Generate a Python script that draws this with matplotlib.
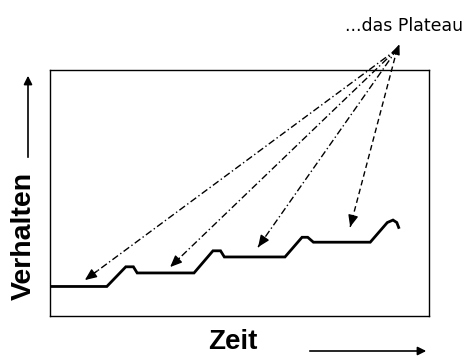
import matplotlib
matplotlib.use('Agg')
import matplotlib.pyplot as plt

plt.rcParams['font.family'] = ['Liberation Sans', 'DejaVu Sans']

# Verlauf: Zeit (x) und Verhalten (y), Achsen 0..100
zeit = [0, 15, 20, 22, 23, 38, 43, 45, 46, 62, 66.5, 68, 69.5, 84.5, 89, 90.5, 91.5, 92]
verhalten = [12, 12, 20, 20, 17.5, 17.5, 26.5, 26.5, 24, 24, 32, 32, 30, 30, 38, 39, 38, 36]

# Pfeilspitzen auf den Plateaus
plateau_x = [9.2, 31.7, 54.9, 79.2]
plateau_y = [14.6, 19.9, 28.0, 36.2]
plateau_ls = [(0, (5, 2, 1, 2)), (0, (5, 2, 1, 2)), (0, (5, 2, 1, 2)), (0, (4, 2.5))]
quelle = (91.6, 108.5)

W, H = 477, 356
fig = plt.figure(figsize=(W / 100, H / 100), dpi=100)
ax = fig.add_axes([50 / W, 40 / H, 379 / W, 246 / H])
ax.set_xlim(0, 100)
ax.set_ylim(0, 100)
ax.set_xticks([])
ax.set_yticks([])
for s in ax.spines.values():
    s.set_linewidth(1.0)

ax.plot(zeit, verhalten, color='black', lw=2.0, solid_joinstyle='miter')

# gestrichelte Pfeile vom Text zu den Plateaus
for px, py, ls in zip(plateau_x, plateau_y, plateau_ls):
    ax.plot([quelle[0], px], [quelle[1], py], color='black', lw=1.0, ls=ls, clip_on=False)
    dx = px - quelle[0]
    dy = py - quelle[1]
    ax.annotate('', xy=(px, py), xytext=(px - dx * 0.04, py - dy * 0.04),
                arrowprops=dict(arrowstyle='-|>,head_length=0.7,head_width=0.3',
                                color='black', lw=1.0, shrinkA=0, shrinkB=0))
# kleine Spitze nach oben zum Text
ax.annotate('', xy=(92.2, 110.5), xytext=(quelle[0] - 0.4, quelle[1] - 2),
            annotation_clip=False,
            arrowprops=dict(arrowstyle='-|>,head_length=0.6,head_width=0.25',
                            color='black', lw=1.0, shrinkA=0, shrinkB=0))

# Achsenpfeile und Beschriftungen (Figurenpixel)
fig.add_artist(matplotlib.patches.FancyArrowPatch((28, H - 160), (28, H - 73),
               transform=None, arrowstyle='-|>,head_length=5,head_width=2.5',
               color='black', lw=1.2))
fig.add_artist(matplotlib.patches.FancyArrowPatch((307, 5), (429, 5),
               transform=None, arrowstyle='-|>,head_length=5,head_width=2.5',
               color='black', lw=1.2))

fig.text(24 / W, 120 / H, 'Verhalten', rotation=90, ha='center', va='center',
         fontsize=20.5, fontweight='bold', family='Liberation Sans')
fig.text(233 / W, 7 / H, 'Zeit', ha='center', va='baseline',
         fontsize=20, fontweight='bold', family='Liberation Sans')
fig.text(404 / W, 330 / H, '...das Plateau', ha='center', va='center',
         fontsize=12.5, family='DejaVu Sans')

fig.savefig('out.png', dpi=100)
